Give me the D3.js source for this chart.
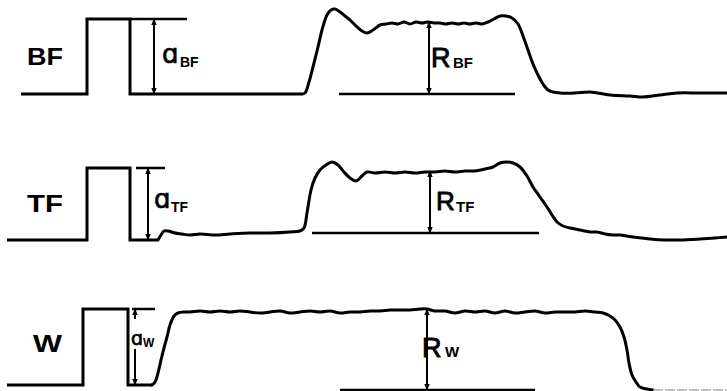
<!DOCTYPE html>
<html>
<head>
<meta charset="utf-8">
<script src="https://cdn.jsdelivr.net/npm/d3@7/dist/d3.min.js"></script>
<style>
  html, body { margin: 0; padding: 0; background: #fff; }
  svg { display: block; }
</style>
</head>
<body>
<svg id="chart" width="727" height="391"></svg>
<script>
// ---------------- DATA (time in ms, deflection in arbitrary units) ----------------
const rowLabels = ["BF", "TF", "W"];

// stimulus pulses (time, deflection)
const bfStimulus = [[14,0],[80,0],[80,75],[123,75],[123,0],[295,0]];
const tfStimulus = [[0,0],[80,0],[80,72],[123,72],[123,0],[151,0]];
const wStimulus  = [[0,0],[76,0],[76,76],[121,76],[121,0],[145,0]];

// responses
const bfResponse = [[295,0],[298,1],[302,12],[306,27],[311,47],[315,64],[320,79],[324,84],[328,85],[333,82],
  [338,78],[343,74],[349,68],[355,63],[360,61],[366,64],[373,69],[379,70],[385,71],[391,70],[397,72],[403,70],
  [409,72],[415,71],[421,72],[427,71],[433,71],[439,70],[445,71],[451,70],[457,71],[463,70],[469,71],[475,70],
  [481,72],[487,75],[493,78],[499,78],[505,76],[511,70],[516,58],[521,44],[526,30],[531,19],[536,10],[541,4],
  [546,2],[553,1],[568,1],[583,2],[603,-1],[623,-2],[636,-3],[653,-1],[670,1],[693,1],[720,1]];

const tfResponse = [[151,0],[154,5],[157,9],[161,9],[168,7],[175,6],[183,5],[193,6],[208,5],[223,6],[243,7],
  [263,7],[283,8],[293,9],[297,12],[300,27],[304,50],[308,62],[313,70],[319,75],[325,78],[331,75],[337,68],
  [343,62],[349,59],[355,64],[360,68],[368,67],[378,68],[388,67],[398,68],[408,67],[418,68],[428,68],[438,69],
  [448,68],[458,69],[468,69],[478,71],[486,73],[493,77],[500,78],[506,77],[513,73],[520,64],[526,53],[533,43],
  [540,33],[545,25],[550,18],[556,14],[563,12],[573,10],[583,8],[590,8],[598,6],[606,5],[613,5],[620,4],[626,3],
  [643,1],[658,0],[673,0],[693,1],[708,2],[720,3]];

const wResponse = [[145,0],[148,3],[151,12],[154,25],[157,37],[160,48],[163,60],[167,69],[171,72],[177,73],
  [183,73],[193,74],[203,73],[213,74],[223,73],[233,74],[243,73],[253,72],[263,73],[273,74],[283,72],[293,73],
  [303,74],[313,73],[323,74],[333,72],[343,73],[353,73],[363,74],[373,74],[383,75],[393,75],[403,75],[413,76],
  [420,76],[428,74],[438,74],[448,72],[458,74],[468,73],[478,74],[488,72],[498,74],[508,72],[518,73],[528,74],
  [538,72],[548,73],[558,73],[568,73],[578,74],[588,73],[596,72],[603,69],[608,65],[613,58],[617,48],[620,35],
  [622,22],[625,10],[629,3],[633,-2],[640,-4],[646,-5]];
const wTail = [[646,-5],[720,-5]];

// annotation values per row
const stimAmp     = [75, 72, 76];          // a amplitude
const aLineT      = [[123,180],[129,158],[125,148]];
const aArrowT     = [147, 141, 128];
const respTop     = [72, 69, 76];          // R top
const respBase    = [0, 7, -5];            // R baseline
const rLineT      = [[332,508],[305,532],[333,528]];
const rArrowT     = [422, 423, 420];
const aSubs       = ["BF", "TF", "W"];
const rSubs       = ["BF", "TF", "W"];

// ---------------- LAYOUT ----------------
const svg = d3.select("#chart");
const x = d3.scaleLinear().domain([0, 720]).range([7, 727]);
const rowBase = [94, 240, 385];
const yScales = rowBase.map(b => d3.scaleLinear().domain([0, 100]).range([b, b - 100]));

const stimuli = [bfStimulus, tfStimulus, wStimulus];
const responses = [bfResponse, tfResponse, wResponse];

// arrowhead marker
const defs = svg.append("defs");
defs.append("marker")
  .attr("id", "ah").attr("viewBox", "0 0 10 10")
  .attr("refX", 9).attr("refY", 5)
  .attr("markerWidth", 7).attr("markerHeight", 7)
  .attr("markerUnits", "userSpaceOnUse")
  .attr("orient", "auto-start-reverse")
  .append("path").attr("d", "M0,1 L10,5 L0,9 Z").attr("fill", "#000");

rowLabels.forEach((lab, i) => {
  const y = yScales[i];
  const g = svg.append("g");
  const lin = d3.line().x(d => x(d[0])).y(d => y(d[1]));
  const smooth = d3.line().x(d => x(d[0])).y(d => y(d[1])).curve(d3.curveCatmullRom.alpha(0.5));

  g.append("path").attr("d", lin(stimuli[i]))
    .attr("fill", "none").attr("stroke", "#000").attr("stroke-width", 3)
    .attr("stroke-linejoin", "miter");
  g.append("path").attr("d", smooth(responses[i]))
    .attr("fill", "none").attr("stroke", "#000").attr("stroke-width", 3)
    .attr("stroke-linejoin", "round").attr("stroke-linecap", "round");

  g.append("line")
    .attr("x1", x(aLineT[i][0])).attr("x2", x(aLineT[i][1]))
    .attr("y1", y(stimAmp[i])).attr("y2", y(stimAmp[i]))
    .attr("stroke", "#000").attr("stroke-width", 2.5);

  if (i === 2) {
    g.append("line")
      .attr("x1", x(aArrowT[i])).attr("x2", x(aArrowT[i]))
      .attr("y1", y(stimAmp[i]) + 10).attr("y2", y(stimAmp[i]))
      .attr("stroke", "#000").attr("stroke-width", 2).attr("marker-end", "url(#ah)");
    g.append("line")
      .attr("x1", x(aArrowT[i])).attr("x2", x(aArrowT[i]))
      .attr("y1", y(stimAmp[i]) + 40).attr("y2", y(0))
      .attr("stroke", "#000").attr("stroke-width", 2).attr("marker-end", "url(#ah)");
  } else {
    g.append("line")
      .attr("x1", x(aArrowT[i])).attr("x2", x(aArrowT[i]))
      .attr("y1", y(stimAmp[i])).attr("y2", y(0))
      .attr("stroke", "#000").attr("stroke-width", 2)
      .attr("marker-start", "url(#ah)").attr("marker-end", "url(#ah)");
  }

  g.append("line")
    .attr("x1", x(rLineT[i][0])).attr("x2", x(rLineT[i][1]))
    .attr("y1", y(respBase[i])).attr("y2", y(respBase[i]))
    .attr("stroke", "#000").attr("stroke-width", 2.5);
  g.append("line")
    .attr("x1", x(rArrowT[i])).attr("x2", x(rArrowT[i]))
    .attr("y1", y(respTop[i])).attr("y2", y(respBase[i]))
    .attr("stroke", "#000").attr("stroke-width", 2)
    .attr("marker-start", "url(#ah)").attr("marker-end", "url(#ah)");
});

svg.append("path")
  .attr("d", d3.line().x(d => x(d[0])).y(d => yScales[2](d[1]))(wTail))
  .attr("fill", "none").attr("stroke", "#aaa").attr("stroke-width", 1.5)
  .attr("stroke-dasharray", "10,2");

// ---------------- TEXT ----------------
const font = "'Liberation Sans', Arial, sans-serif";
const rowLabelPos = [[27, 65, 36], [27, 212, 36], [33, 352, 29]];
rowLabels.forEach((lab, i) => {
  svg.append("text").text(lab)
    .attr("x", rowLabelPos[i][0]).attr("y", rowLabelPos[i][1])
    .attr("textLength", rowLabelPos[i][2]).attr("lengthAdjust", "spacingAndGlyphs")
    .attr("font-family", font).attr("font-weight", "bold").attr("font-size", 23)
    .attr("fill", "#000");
});

const aLabelPos = [[162, 63, 26, 180, 67, 14], [154, 208, 26, 171, 212, 14], [131, 345, 19, 143, 347, 12]];
aSubs.forEach((s, i) => {
  const p = aLabelPos[i];
  svg.append("text").text("ɑ").attr("x", p[0]).attr("y", p[1])
    .attr("font-family", "'DejaVu Sans', sans-serif").attr("font-size", p[2]).attr("fill", "#000")
    .attr("stroke", "#000").attr("stroke-width", 0.7);
  svg.append("text").text(s).attr("x", p[3]).attr("y", p[4])
    .attr("font-family", font).attr("font-weight", "bold").attr("font-size", p[5]).attr("fill", "#000");
});

const rLabelPos = [[431, 67, 27, 453, 68, 15], [436, 210, 26, 456, 212, 15], [422, 357, 27, 445, 357, 15]];
rSubs.forEach((s, i) => {
  const p = rLabelPos[i];
  svg.append("text").text("R").attr("x", p[0]).attr("y", p[1])
    .attr("font-family", font).attr("font-size", p[2]).attr("fill", "#000")
    .attr("stroke", "#000").attr("stroke-width", 0.9);
  svg.append("text").text(s).attr("x", p[3]).attr("y", p[4])
    .attr("font-family", font).attr("font-weight", "bold").attr("font-size", p[5]).attr("fill", "#000");
});
</script>
</body>
</html>
